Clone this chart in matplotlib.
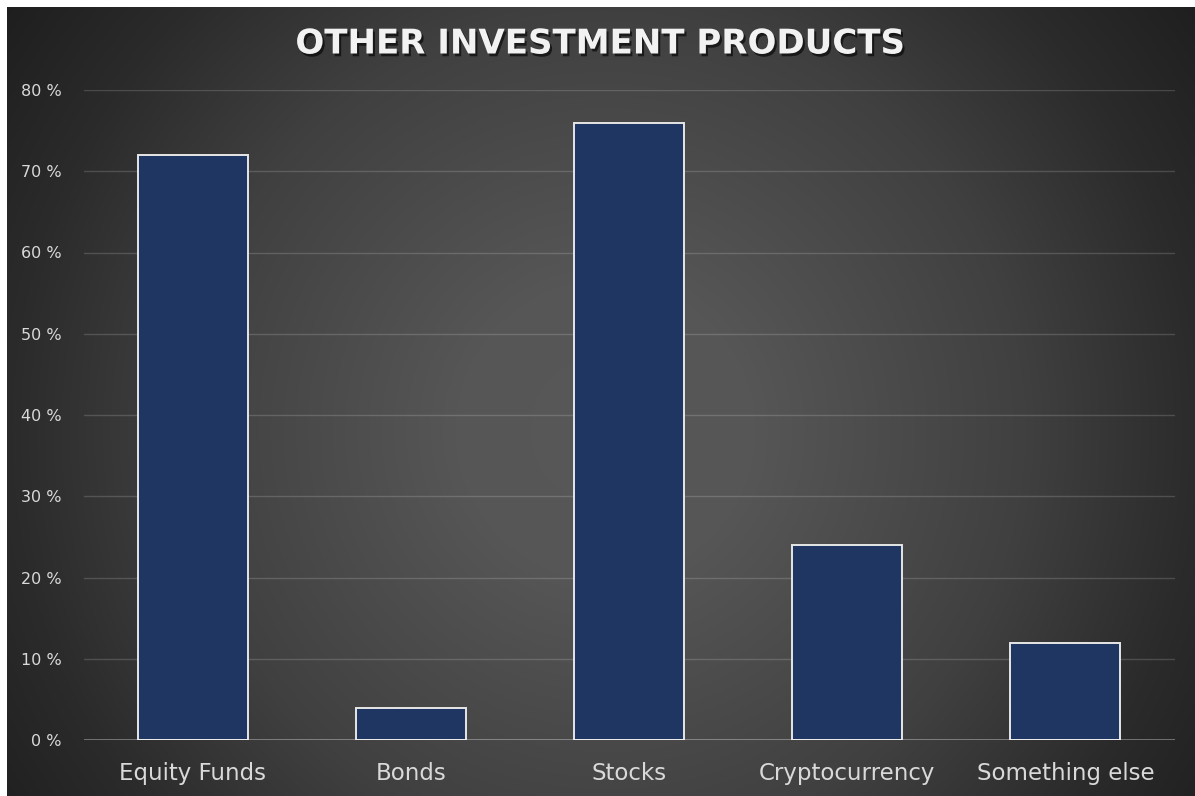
import numpy as np
import matplotlib
matplotlib.use("Agg")
import matplotlib.pyplot as plt
import matplotlib.patheffects as pe

categories = ["Equity Funds", "Bonds", "Stocks", "Cryptocurrency", "Something else"]
values = [72, 4, 76, 24, 12]
yticks = [0, 10, 20, 30, 40, 50, 60, 70, 80]
ytick_labels = [f"{v} %" for v in yticks]
title = "OTHER INVESTMENT PRODUCTS"

W, H = 1195, 796
fig = plt.figure(figsize=(W / 100, H / 100), dpi=100, facecolor="white")

# Radial dark-grey background panel
off = 7
bg_ax = fig.add_axes([off / W, 0, 1 - off / W, 1 - off / H], zorder=0)
bg_ax.set_axis_off()
px_w, px_h = W - off, H - off
xx, yy = np.meshgrid(np.arange(px_w) + off, np.arange(px_h) + off)
cx, cy = 605, 430
d = np.hypot(xx - cx, yy - cy)
grey = np.interp(d, [0, 150, 420, 593, 727, 850], [88, 86, 64, 43, 31, 28]) / 255.0
img = np.dstack([grey, grey, grey])
bg_ax.imshow(img, aspect="auto", interpolation="bilinear", extent=[0, 1, 0, 1])
bg_ax.set_xlim(0, 1)
bg_ax.set_ylim(0, 1)

# Chart axes
ax = fig.add_axes([83.5 / W, 56 / H, 1091 / W, 650 / H], zorder=1)
ax.set_facecolor("none")
x = np.arange(len(categories))
ax.bar(x, values, width=0.505, color="#1f3562", edgecolor="#e6e6e6", linewidth=1.4, zorder=3)

ax.set_xlim(-0.5, len(categories) - 0.5)
ax.set_ylim(0, 80)
ax.set_yticks(yticks)
ax.set_yticklabels(ytick_labels)
ax.set_xticks(x)
ax.set_xticklabels(categories)

for y in yticks[1:]:
    ax.axhline(y, color="white", alpha=0.16, linewidth=1.0, zorder=1)
ax.axhline(0, color="white", alpha=0.4, linewidth=1.2, zorder=4)

for s in ax.spines.values():
    s.set_visible(False)
ax.tick_params(axis="y", length=0, pad=15.5, labelsize=11.5, labelcolor="#d9d9d9")
ax.tick_params(axis="x", length=0, pad=16, labelsize=16.5, labelcolor="#d9d9d9")

fig.text(600 / W, 1 - 44 / H, title, ha="center", va="center",
         fontsize=24.5, fontweight="bold", color="#f2f2f2", zorder=5,
         path_effects=[pe.SimplePatchShadow(offset=(1.5, -2), shadow_rgbFace="black", alpha=0.6),
                       pe.Normal()])

fig.savefig("out.png", dpi=100, facecolor=fig.get_facecolor())
